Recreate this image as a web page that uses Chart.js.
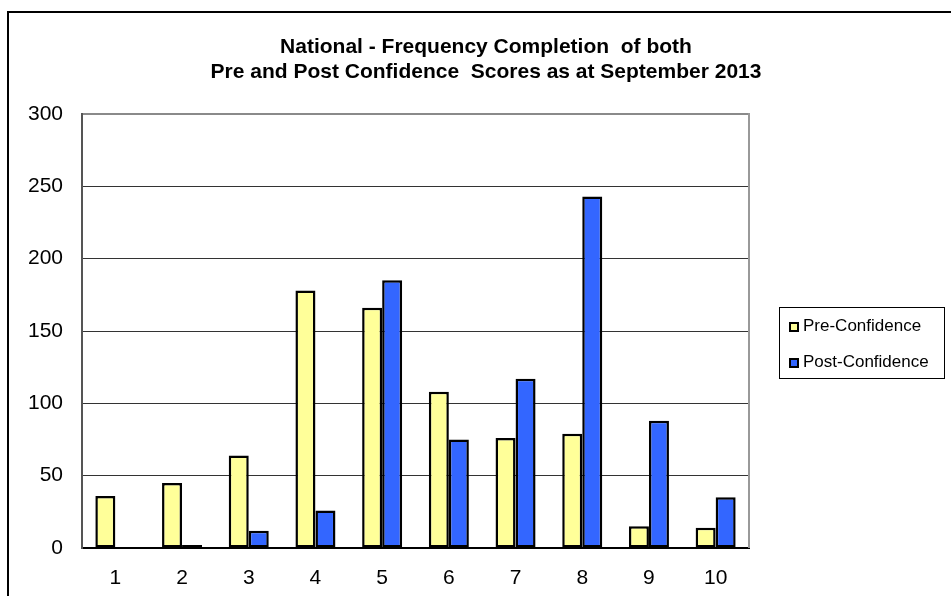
<!DOCTYPE html>
<html>
<head>
<meta charset="utf-8">
<script src="https://cdn.jsdelivr.net/npm/chart.js@4.4.0/dist/chart.umd.min.js"></script>
<style>
  body { margin: 0; background: #fff; font-family: "Liberation Sans", Arial, sans-serif; }
  #wrap { position: relative; width: 951px; height: 596px; overflow: hidden; }
  #frame { position: absolute; left: 7px; top: 11px; width: 1000px; height: 1000px; border: 2px solid #000; }
  #title { position: absolute; left: 0; width: 972px; top: 33px; text-align: center; font-weight: bold; font-size: 21px; line-height: 25px; white-space: pre; color: #000; }
  #legend { position: absolute; left: 779px; top: 307px; width: 164px; height: 70px; border: 1px solid #000; font-size: 17px; color: #000; }
  #legend div { position: absolute; left: 23px; line-height: 20px; }
  #legend span { position: absolute; left: -14px; top: 6px; width: 6px; height: 6px; border: 2px solid #000; }
  canvas { position: absolute; left: 0; top: 0; }
</style>
</head>
<body>
<div id="wrap">
  <div id="frame"></div>
  <canvas id="myChart" width="951" height="596"></canvas>
  <div id="title">National - Frequency Completion  of both
Pre and Post Confidence  Scores as at September 2013</div>
  <div id="legend"></div>
</div>
<script>
// Chart data
const categories = ["1", "2", "3", "4", "5", "6", "7", "8", "9", "10"];
const preConfidence = [36, 45, 64, 178, 166, 108, 76, 79, 15, 14];
const postConfidence = [0, 2, 12, 26, 185, 75, 117, 243, 88, 35];
const seriesNames = ["Pre-Confidence", "Post-Confidence"];
const seriesColors = ["#FFFF99", "#3366FF"];

// Build legend
const legend = document.getElementById("legend");
seriesNames.forEach((name, i) => {
  const item = document.createElement("div");
  item.style.top = (8 + i * 36) + "px";
  const box = document.createElement("span");
  box.style.background = seriesColors[i];
  item.appendChild(box);
  item.appendChild(document.createTextNode(name));
  legend.appendChild(item);
});

// right edge of the plot area
const plotBorder = {
  id: "plotBorder",
  afterDraw(chart) {
    const { ctx, chartArea } = chart;
    ctx.save();
    ctx.strokeStyle = "#999";
    ctx.lineWidth = 2;
    ctx.beginPath();
    ctx.moveTo(chartArea.right, chartArea.top - 1);
    ctx.lineTo(chartArea.right, chartArea.bottom);
    ctx.stroke();
    ctx.restore();
  }
};

const ctx = document.getElementById("myChart").getContext("2d");
new Chart(ctx, {
  type: "bar",
  data: {
    labels: categories,
    datasets: [
      {
        label: seriesNames[0],
        data: preConfidence,
        backgroundColor: seriesColors[0],
        borderColor: "#000",
        borderWidth: 2.5,
        borderSkipped: false,
        categoryPercentage: 0.6,
        barPercentage: 1.0
      },
      {
        label: seriesNames[1],
        data: postConfidence,
        backgroundColor: seriesColors[1],
        borderColor: "#000",
        borderWidth: 2.5,
        borderSkipped: false,
        categoryPercentage: 0.6,
        barPercentage: 1.0
      }
    ]
  },
  options: {
    responsive: false,
    animation: false,
    layout: { padding: { left: 10, right: 202, top: 114, bottom: 0 } },
    plugins: {
      legend: { display: false },
      title: { display: false },
      tooltip: { enabled: false }
    },
    scales: {
      x: {
        grid: { display: false, drawTicks: false },
        border: { color: "#000", width: 2 },
        ticks: {
          color: "#000",
          padding: 18,
          font: { family: "'Liberation Sans', Arial", size: 21 }
        },
        afterFit(scale) { scale.height = 48; }
      },
      y: {
        min: 0,
        max: 300,
        grid: {
          drawTicks: false,
          color: (c) => (c.tick && c.tick.value === 300 ? "#8a8a8a" : "#333"),
          lineWidth: (c) => (c.tick && c.tick.value === 300 ? 2 : 1)
        },
        border: { color: "#555", width: 2 },
        ticks: {
          stepSize: 50,
          color: "#000",
          padding: 19,
          font: { family: "'Liberation Sans', Arial", size: 21 }
        },
        afterFit(scale) { scale.width = 72; }
      }
    }
  },
  plugins: [plotBorder]
});
</script>
</body>
</html>
